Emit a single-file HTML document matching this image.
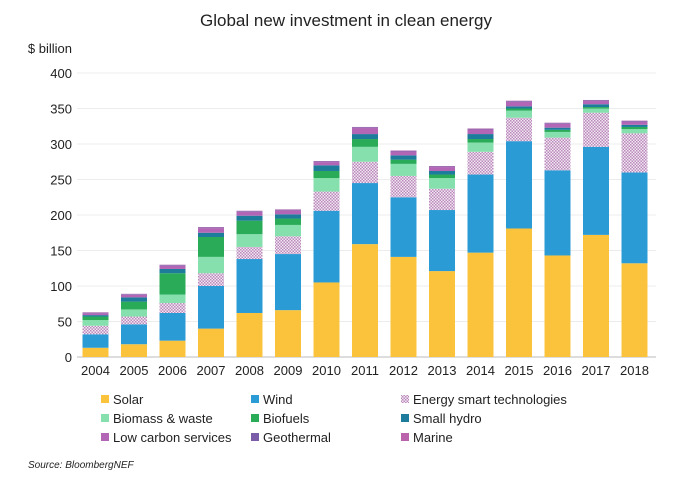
<!DOCTYPE html>
<html><head><meta charset="utf-8"><style>
body{margin:0;background:#fff;font-family:"Liberation Sans",sans-serif;}
svg text{font-family:"Liberation Sans",sans-serif;}
</style></head><body>
<svg id="chart" width="693" height="490">
<defs>
<pattern id="hatch" width="3" height="3" patternUnits="userSpaceOnUse">
<rect width="3" height="3" fill="#f3e6f3"/><rect width="1.5" height="1.5" fill="#b98abb"/><rect x="1.5" y="1.5" width="1.5" height="1.5" fill="#b98abb"/>
</pattern>
</defs>
<text x="346" y="26" text-anchor="middle" font-size="17" fill="#222">Global new investment in clean energy</text>
<text x="72" y="53" text-anchor="end" font-size="13" fill="#222">$ billion</text>
<g id="grid"></g><g id="bars"></g><g id="xlabels"></g><g id="legend"></g>
<text x="28" y="468" font-size="10" font-style="italic" fill="#222">Source: BloombergNEF</text>
</svg>
<script>
const years=["2004","2005","2006","2007","2008","2009","2010","2011","2012","2013","2014","2015","2016","2017","2018"];
const seriesNames=["Solar","Wind","Energy smart technologies","Biomass & waste","Biofuels","Small hydro","Low carbon services","Geothermal","Marine"];
const solar=[13,18,23,40,62,66,105,159,141,121,147,181,143,172,132];
const wind=[19,28,39,60,76,79,101,86,84,86,110,123,120,124,128];
const est=[12,11,14,18,17,25,27,30,30,30,32,33,46,48,55];
const biomass=[8,10,12,23,18,16,19,21,17,15,13,10,8,6,6];
const biofuels=[5,11,30,28,19,9,10,11,6,5,5,3,3,2,3];
const hydro=[2,6,6,6,7,6,8,7,6,5,7,3,3,4,3];
const lowcarbon=[2.5,3.5,4.5,6.5,5.5,5.5,4.5,8.5,5.5,5.5,6.5,6.5,5.5,4.5,4.5];
const geothermal=[1,1,1,1,1,1,1,1,1,1,1,1,1,1,1];
const marine=[0.5,0.5,0.5,0.5,0.5,0.5,0.5,0.5,0.5,0.5,0.5,0.5,0.5,0.5,0.5];
const yTicks=[0,50,100,150,200,250,300,350,400];
const colors=["#fbc33c","#2b9bd6","url(#hatch)","#86e0ad","#2aab58","#1d7b9c","#b266b5","#7b5ca8","#bb62ad"];
const series=[solar,wind,est,biomass,biofuels,hydro,lowcarbon,geothermal,marine];
const NS="http://www.w3.org/2000/svg";
function y(v){return 357-v*0.71;}
function x(i){return 95.5+i*38.5;}
function mk(t,a,p){const e=document.createElementNS(NS,t);for(const k in a)e.setAttribute(k,a[k]);p.appendChild(e);return e;}
const grid=document.getElementById('grid');
yTicks.forEach(t=>{
 const l=mk('line',{x1:77,x2:656,y1:y(t),y2:y(t),stroke:t?'#ececec':'#bbb','stroke-width':1},grid);
 
 
 const tx=mk('text',{x:72,y:y(t)+5,'text-anchor':'end','font-size':13,fill:'#222'},grid);tx.textContent=t;
 
 
});
const bars=document.getElementById('bars');
years.forEach((yr,i)=>{
 let c=0;
 series.forEach((s,k)=>{
  const v=s[i];
  const r=mk('rect',{x:x(i)-13,width:26,y:y(c+v),height:v*0.71,fill:colors[k]},bars);
  
  
  c+=v;
 });
 const tx=mk('text',{x:x(i),y:375,'text-anchor':'middle','font-size':13,fill:'#222'},document.getElementById('xlabels'));tx.textContent=yr;
 
 
});
const leg=document.getElementById('legend');
const lx=[105,255,405],ly=[399,418,437];
seriesNames.forEach((n,k)=>{
 const cx=lx[k%3],cy=ly[Math.floor(k/3)];
 const r=mk('rect',{x:cx-4,y:cy-4,width:8,height:8,fill:colors[k]},leg);
 
 
 const t=mk('text',{x:cx+8,y:cy+5,'font-size':13,fill:'#222'},leg);t.textContent=n;
 
 
});
</script>
</body></html>
